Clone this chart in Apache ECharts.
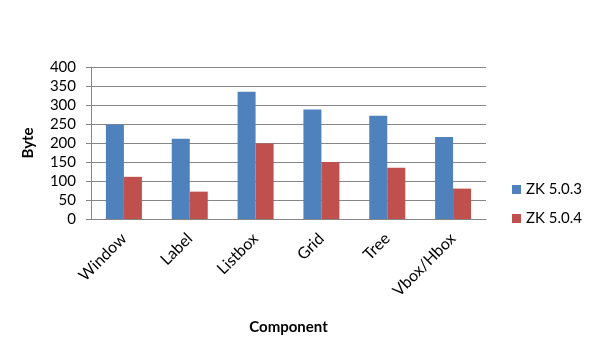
<!DOCTYPE html>
<html><head><meta charset="utf-8">
<script src="https://cdn.jsdelivr.net/npm/echarts@6/dist/echarts.min.js"></script>
<style>html,body{margin:0;padding:0;background:#fff;}#c{width:595px;height:354px;}</style>
</head><body><div id="c"></div>
<script>
const categories = ['Window', 'Label', 'Listbox', 'Grid', 'Tree', 'Vbox/Hbox'];
const zk503 = [248, 211, 335, 288, 272, 216];
const zk504 = [111, 72, 199, 150, 135, 80];
const yTicks = [0, 50, 100, 150, 200, 250, 300, 350, 400];

const font = 'Lato, Liberation Sans, Arial, sans-serif';
const chart = echarts.init(document.getElementById('c'), null, {renderer: 'canvas'});
chart.setOption({
  animation: false,
  backgroundColor: '#ffffff',
  grid: {left: 91, right: 109, top: 67, bottom: 135, containLabel: false},
  legend: {
    orient: 'vertical', left: 507, top: 177, itemWidth: 9, itemHeight: 9, itemGap: 14,
    icon: 'rect',
    textStyle: {fontFamily: font, fontSize: 15, color: '#000'},
    data: ['ZK 5.0.3', 'ZK 5.0.4']
  },
  xAxis: {
    type: 'category', data: categories,
    name: 'Component', nameLocation: 'middle', nameGap: 101,
    nameTextStyle: {fontFamily: font, fontSize: 15, fontWeight: 'bold', color: '#000'},
    axisLine: {lineStyle: {color: '#868686', width: 1}},
    axisTick: {show: false},
    axisLabel: {rotate: 45, fontFamily: font, fontSize: 16, color: '#000', margin: 17, interval: 0}
  },
  yAxis: {
    type: 'value', min: yTicks[0], max: yTicks[yTicks.length - 1], interval: 50,
    name: 'Byte', nameLocation: 'middle', nameGap: 55, nameRotate: 90,
    nameTextStyle: {fontFamily: font, fontSize: 15, fontWeight: 'bold', color: '#000'},
    axisLine: {show: true, lineStyle: {color: '#868686', width: 1}},
    axisTick: {show: true, length: 5, lineStyle: {color: '#868686'}},
    axisLabel: {fontFamily: font, fontSize: 15, color: '#000', margin: 15},
    splitLine: {lineStyle: {color: '#868686', width: 1}}
  },
  series: [
    {name: 'ZK 5.0.3', type: 'bar', data: zk503, barWidth: 18, barGap: '0%', itemStyle: {color: '#4f81bd'}},
    {name: 'ZK 5.0.4', type: 'bar', data: zk504, barWidth: 18, barGap: '0%', itemStyle: {color: '#c0504d'}}
  ]
});
</script></body></html>
